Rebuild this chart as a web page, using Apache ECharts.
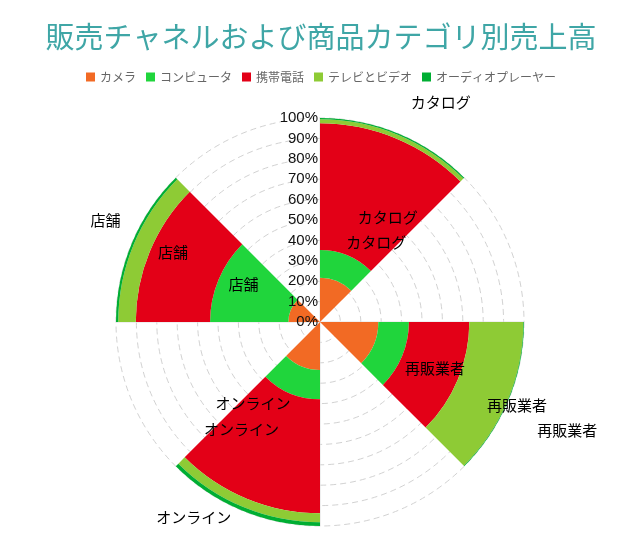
<!DOCTYPE html>
<html>
<head>
<meta charset="utf-8">
<script src="https://cdn.jsdelivr.net/npm/echarts@6/dist/echarts.min.js"></script>
<style>
html,body{margin:0;padding:0;background:#fff;}
#chart{width:642px;height:547px;}
</style>
</head>
<body>
<div id="chart"></div>
<script>
// ---- data ----
const categories = ['カタログ', '再販業者', 'オンライン', '店舗'];
const seriesNames = ['カメラ', 'コンピュータ', '携帯電話', 'テレビとビデオ', 'オーディオプレーヤー'];
const camera   = [21.7, 28.6, 23.5, 15.5];
const computer = [13.6, 15.0, 14.4, 38.4];
const mobile   = [62.1, 29.6, 55.9, 36.4];
const tvVideo  = [2.0, 26.5, 4.4, 8.6];
const audio    = [0.6, 0.3, 1.8, 1.1];
const radiusMax = 100;
const radiusStep = 10;

// ---- styles ----
const colors = ['#F26A24', '#20D53C', '#E30017', '#8ECB35', '#00AE33'];
const labelOffsets = {
  1: [[34, -26], [47, 18], [-43, 23], [-11, -11]],
  2: [[16, 20], [87, 38], [-27, -17], [-11, -13]],
  4: [[43, -32], [59, 30], [-49, 9], [-27, -24]]
};
const cjk = "'Noto Sans CJK JP', sans-serif";

const values = [camera, computer, mobile, tvVideo, audio];

const series = values.map(function (vals, si) {
  const offs = labelOffsets[si];
  return {
    name: seriesNames[si],
    type: 'bar',
    coordinateSystem: 'polar',
    polarIndex: 0,
    stack: 'total',
    barGap: '0%',
    barCategoryGap: '0%',
    itemStyle: { color: colors[si] },
    emphasis: { disabled: true },
    label: {
      show: false,
      position: 'middle',
      rotate: 0,
      formatter: '{b}',
      color: '#000',
      fontSize: 15,
      fontFamily: cjk,
      textBorderWidth: 0
    },
    data: vals.map(function (v, ci) {
      if (!offs) return v;
      return {
        value: v,
        label: { show: true, offset: offs[ci] }
      };
    })
  };
});
// empty slot keeping each stack in the first half of its category
series.push({
  name: '_slot',
  type: 'bar',
  coordinateSystem: 'polar',
  polarIndex: 0,
  stack: 'slot',
  barGap: '0%',
  barCategoryGap: '0%',
  silent: true,
  data: []
});

const chart = echarts.init(document.getElementById('chart'), null, { renderer: 'canvas' });
chart.setOption({
  animation: false,
  backgroundColor: '#fff',
  title: {
    text: '販売チャネルおよび商品カテゴリ別売上高',
    left: 'center',
    top: 17,
    textStyle: { color: '#3FA6A6', fontSize: 29, fontWeight: 'normal', fontFamily: cjk }
  },
  legend: {
    data: seriesNames,
    top: 66,
    left: 'center',
    icon: 'rect',
    itemWidth: 9,
    itemHeight: 9,
    itemGap: 10,
    textStyle: { color: '#666', fontSize: 12, fontFamily: cjk }
  },
  polar: [
    { center: [320, 322], radius: 204 },
    { center: [320, 322], radius: 204 }
  ],
  angleAxis: [
    {
      polarIndex: 0,
      type: 'category',
      data: categories,
      startAngle: 90,
      axisLine: { show: false },
      axisTick: { show: false },
      axisLabel: { show: false },
      splitLine: { show: true, lineStyle: { color: '#e0e0e0', width: 1 } }
    },
    {
      polarIndex: 1,
      type: 'category',
      data: categories,
      startAngle: 90,
      show: false
    }
  ],
  radiusAxis: [
    {
      polarIndex: 0,
      type: 'value',
      min: 0,
      max: radiusMax,
      interval: radiusStep,
      axisLine: { show: false },
      axisTick: { show: false },
      axisLabel: { show: false },
      splitLine: { show: true, lineStyle: { color: '#d2d2d2', type: [6, 4], width: 1 } }
    },
    {
      polarIndex: 1,
      type: 'value',
      min: 0,
      max: radiusMax,
      interval: radiusStep,
      z: 10,
      axisLine: { show: false },
      axisTick: { show: false },
      splitLine: { show: false },
      axisLabel: {
        show: true,
        formatter: '{value}%',
        color: '#111',
        fontSize: 15,
        fontFamily: "'Liberation Sans', Arial, sans-serif",
        margin: 2
      }
    }
  ],
  series: series
});
</script>
</body>
</html>
